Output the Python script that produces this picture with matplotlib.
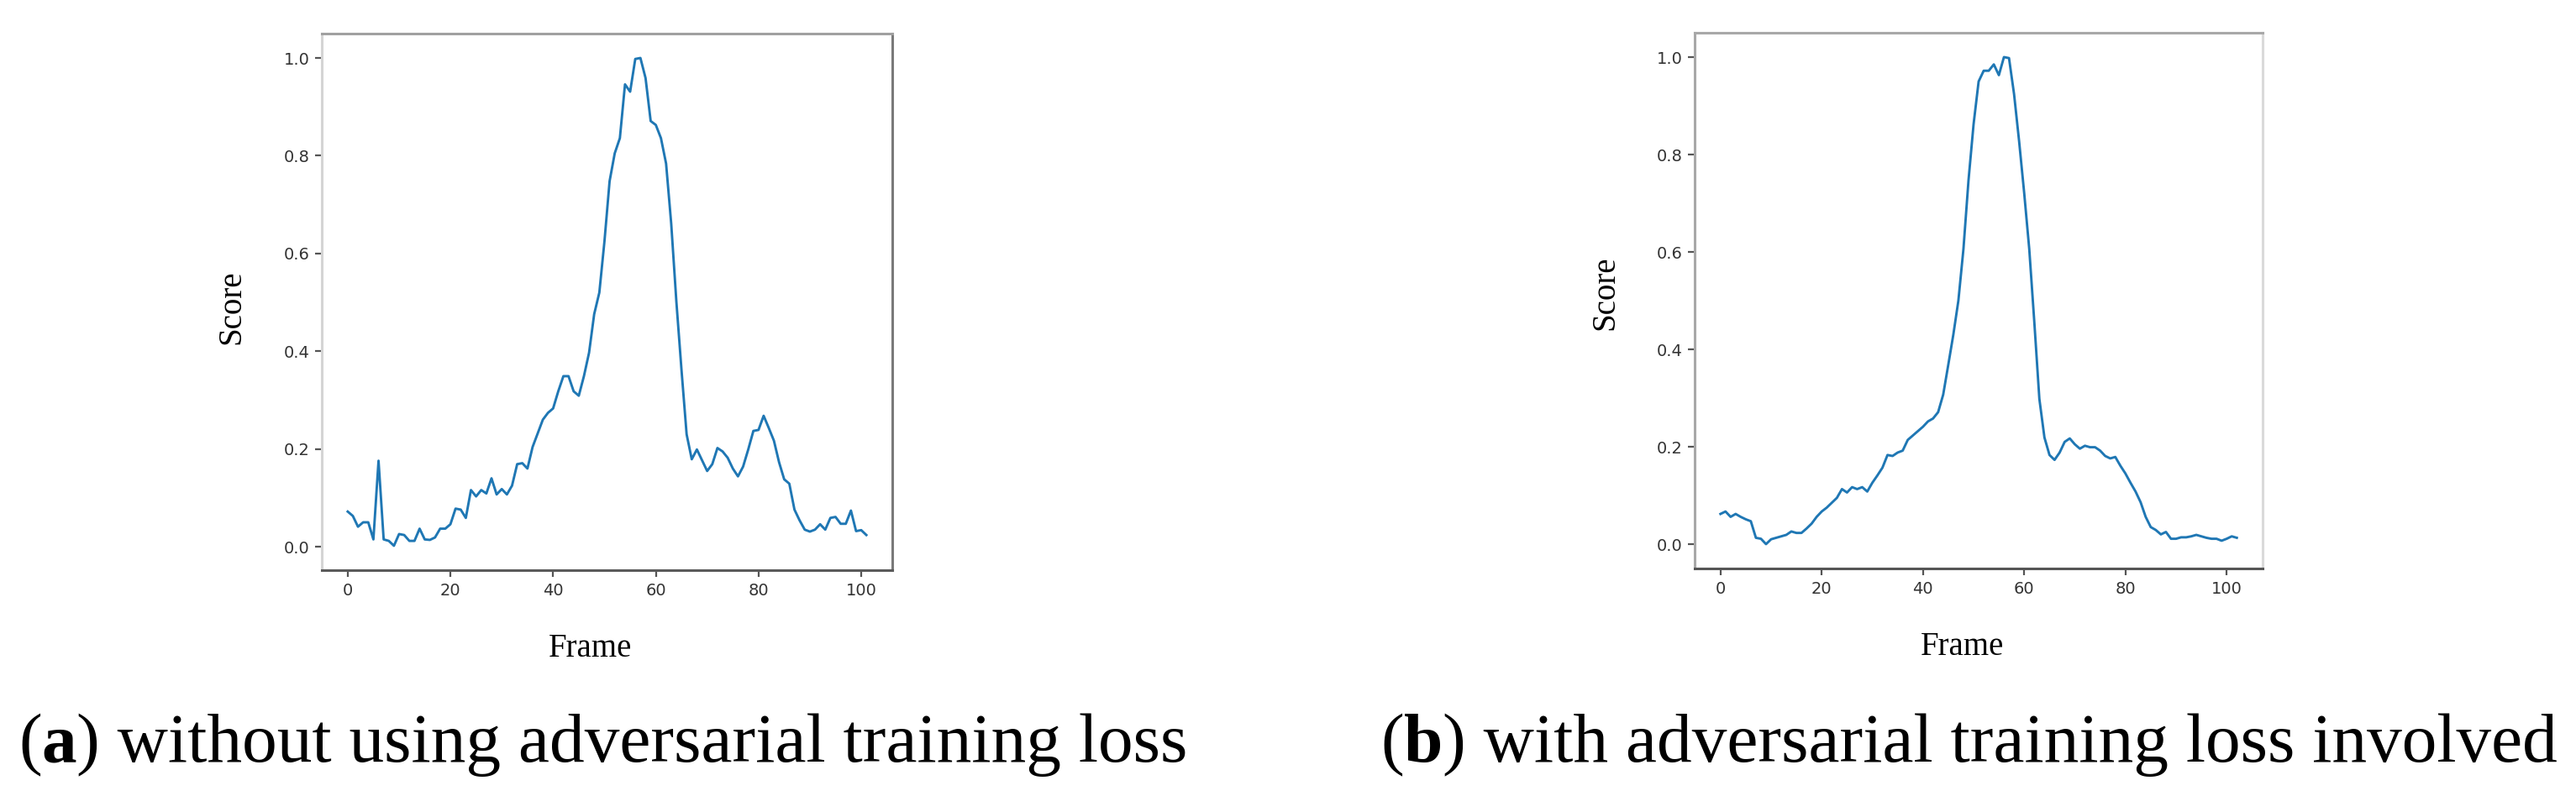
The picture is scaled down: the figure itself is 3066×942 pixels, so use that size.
import matplotlib
matplotlib.use("Agg")
import matplotlib.pyplot as plt

# scores, one per frame
scores_a = [0.072, 0.063, 0.041, 0.050, 0.050, 0.015, 0.176, 0.015, 0.012, 0.002,
            0.026, 0.024, 0.012, 0.012, 0.037, 0.015, 0.014, 0.019, 0.037, 0.037,
            0.046, 0.078, 0.076, 0.059, 0.116, 0.103, 0.116, 0.109, 0.140, 0.107,
            0.118, 0.107, 0.125, 0.169, 0.171, 0.160, 0.204, 0.232, 0.260, 0.274,
            0.283, 0.318, 0.349, 0.349, 0.318, 0.309, 0.349, 0.397, 0.476, 0.520,
            0.625, 0.748, 0.805, 0.836, 0.946, 0.931, 0.998, 1.000, 0.959, 0.871,
            0.863, 0.836, 0.784, 0.661, 0.502, 0.362, 0.230, 0.179, 0.199, 0.177,
            0.155, 0.169, 0.202, 0.195, 0.182, 0.160, 0.144, 0.164, 0.199, 0.237,
            0.239, 0.268, 0.243, 0.217, 0.173, 0.138, 0.129, 0.076, 0.054, 0.035,
            0.031, 0.035, 0.046, 0.035, 0.059, 0.061, 0.047, 0.047, 0.074, 0.032,
            0.034, 0.024]

scores_b = [0.062, 0.067, 0.056, 0.062, 0.056, 0.051, 0.047, 0.013, 0.011, 0.000,
            0.010, 0.013, 0.016, 0.019, 0.026, 0.023, 0.023, 0.032, 0.042, 0.056,
            0.067, 0.075, 0.085, 0.095, 0.113, 0.106, 0.117, 0.113, 0.117, 0.108,
            0.126, 0.141, 0.157, 0.183, 0.181, 0.188, 0.192, 0.214, 0.223, 0.232,
            0.241, 0.252, 0.258, 0.271, 0.307, 0.368, 0.430, 0.500, 0.606, 0.747,
            0.862, 0.950, 0.972, 0.972, 0.985, 0.963, 1.000, 0.998, 0.924, 0.827,
            0.721, 0.606, 0.456, 0.298, 0.219, 0.183, 0.173, 0.188, 0.210, 0.217,
            0.205, 0.196, 0.202, 0.199, 0.199, 0.192, 0.181, 0.176, 0.179, 0.161,
            0.145, 0.126, 0.108, 0.086, 0.056, 0.035, 0.029, 0.020, 0.025, 0.011,
            0.011, 0.014, 0.014, 0.016, 0.019, 0.016, 0.013, 0.011, 0.011, 0.007,
            0.011, 0.016, 0.013]

captions = [("a", "without using adversarial training loss"),
            ("b", "with adversarial training loss involved")]

W, H = 3066, 942
fig = plt.figure(figsize=(W / 100, H / 100), dpi=100)

# axes boxes in pixels: left, top, right, bottom
boxes = [(383, 40, 1062, 679), (2017, 39, 2693, 677)]
spine_cols = [
    {"left": "#d4d4d4", "top": "#a0a0a0", "right": "#7a7a7a", "bottom": "#5a5a5a"},
    {"left": "#a8a8a8", "top": "#a8a8a8", "right": "#dadada", "bottom": "#555555"},
]
cap_x = [22, 1643]

for i, ys in enumerate([scores_a, scores_b]):
    l, t, r, b = boxes[i]
    ax = fig.add_axes([l / W, 1 - b / H, (r - l) / W, (b - t) / H])
    ax.plot(range(len(ys)), ys, color="#1f77b4", lw=2.1)
    ax.set_xticks([0, 20, 40, 60, 80, 100])
    ax.set_yticks([0.0, 0.2, 0.4, 0.6, 0.8, 1.0])
    ax.tick_params(labelsize=14, labelcolor="#333333", color="#555555",
                   length=5.5, width=1.6, pad=5)
    for s, c in spine_cols[i].items():
        ax.spines[s].set_color(c)
        ax.spines[s].set_linewidth(2.2)
    ax.set_ylabel("Score", family="Liberation Serif", fontsize=28)
    ax.set_xlabel("Frame", family="Liberation Serif", fontsize=28)
    ax.yaxis.set_label_coords(-0.13, 0.49 if i == 0 else 0.515)
    ax.xaxis.set_label_coords(0.471, -0.117)

    # caption with bold panel letter
    letter, rest = captions[i]
    t1 = fig.text(cap_x[i] / W, 35 / H, "(", family="Liberation Serif",
                  fontsize=60, va="baseline")
    t2 = ax.annotate(letter, xy=(1, 0), xycoords=t1, va="bottom",
                     family="Liberation Serif", fontsize=60, weight="bold",
                     annotation_clip=False)
    ax.annotate(") " + rest, xy=(1, 0), xycoords=t2, va="bottom",
                family="Liberation Serif", fontsize=60, annotation_clip=False)

fig.savefig("out.png", dpi=100, facecolor="white")
